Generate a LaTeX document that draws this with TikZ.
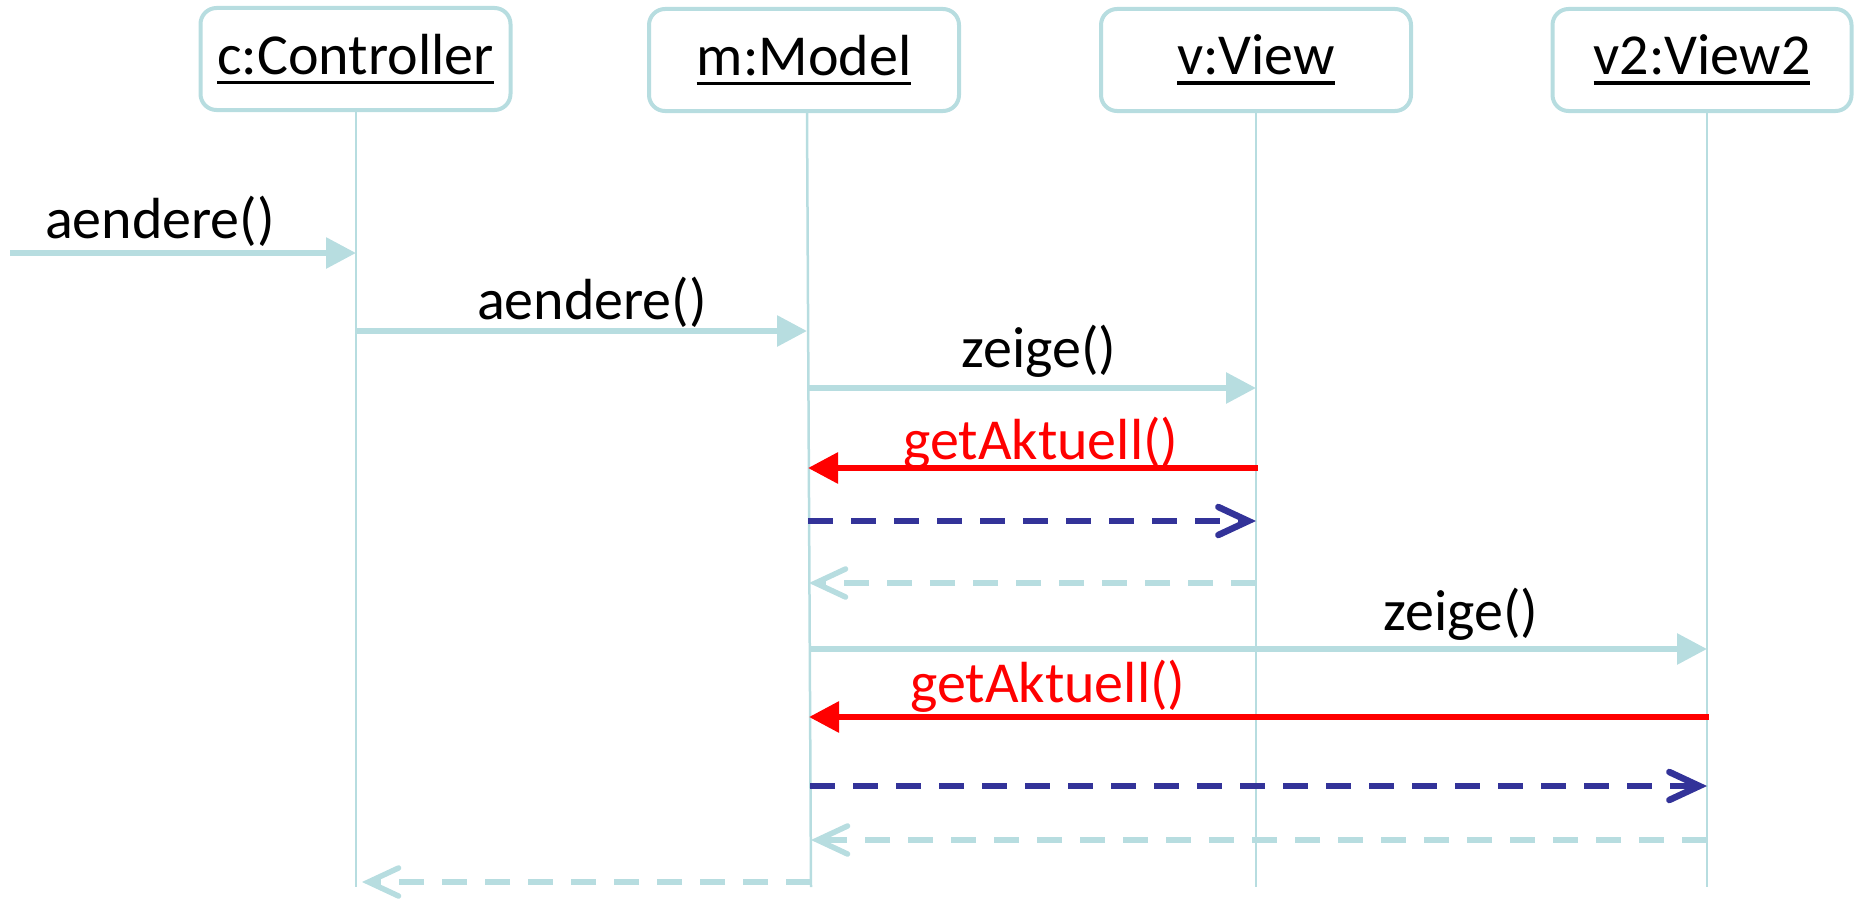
\documentclass[tikz,border=0pt]{standalone}
\usepackage{fontspec}
\setmainfont{Carlito}
\usetikzlibrary{arrows.meta}
\definecolor{lb}{HTML}{B7DDE0}
\definecolor{db}{HTML}{333399}
\definecolor{rd}{HTML}{FF0000}
\newcommand\objname[1]{\setbox0\hbox{#1}\rlap{\raisebox{-10pt}{\rule{\wd0}{3.5pt}}}\box0}
\tikzset{
  obj/.style={draw=lb, line width=4pt, rounded corners=16pt, fill=white, minimum height=102pt, inner sep=0pt, font=\fontsize{58}{60}\selectfont},
  life/.style={draw=lb, line width=2.5pt},
  lbl/.style={inner sep=0pt, font=\fontsize{58}{60}\selectfont},
  call/.style={draw=lb, line width=6pt, -{Triangle[length=30pt,width=30pt]}},
  redcall/.style={draw=rd, line width=6pt, -{Triangle[length=30pt,width=30pt]}},
  reply/.style={draw=db, line width=6.5pt, dash pattern=on 25pt off 18pt, -{Straight Barb[length=30pt,width=28pt,line cap=round]}},
  back/.style={draw=lb, line width=5.5pt, dash pattern=on 25pt off 18pt, -{Straight Barb[length=30pt,width=28pt,line cap=round]}}
}
\begin{document}
\begin{tikzpicture}[x=1pt,y=-1pt]
\useasboundingbox (0,0) rectangle (1855,899);
% objects
\node[obj, minimum width=310pt] (c) at (355.5,59) {\objname{c:Controller}};
\node[obj, minimum width=310pt] (m) at (804,60) {\objname{m:Model}};
\node[obj, minimum width=310pt] (v) at (1256,60) {\objname{v:View}};
\node[obj, minimum width=299pt] (v2) at (1702,60) {\objname{v2:View2}};
% lifeline ends
\coordinate (cE) at (356,887);
\coordinate (mE) at (811,887);
\coordinate (vE) at (1256,887);
\coordinate (v2E) at (1707,887);
\draw[life] (c.south -| cE) -- (cE);
\draw[life] (807,112) -- (mE);
\draw[life] (v.south -| vE) -- (vE);
\draw[life] (v2.south -| v2E) -- (v2E);
% message endpoints
\coordinate (s0) at (10,253);
\coordinate (c1) at (356,253);
\coordinate (c2) at (356,331); \coordinate (m2) at (807,331);
\coordinate (m3) at (808,388); \coordinate (v3) at (1256,388);
\coordinate (v4) at (1258,468); \coordinate (m4) at (808,468);
\coordinate (m5) at (808,521); \coordinate (v5) at (1256,521);
\coordinate (v6) at (1256,583); \coordinate (m6) at (809,583);
\coordinate (m7) at (809,649); \coordinate (v27) at (1707,649);
\coordinate (v28) at (1709,717); \coordinate (m8) at (809,717);
\coordinate (m9) at (810,786); \coordinate (v29) at (1707,786);
\coordinate (v210) at (1707,840); \coordinate (m10) at (811,840);
\coordinate (m11) at (811,882); \coordinate (c11) at (362,882);
% messages
\draw[call] (s0) -- (c1);
\node[lbl] (l1) at (160,221) {aendere()};
\draw[call] (c2) -- (m2);
\node[lbl] (l2) at (592,302) {aendere()};
\draw[call] (m3) -- (v3);
\node[lbl] (l3) at (1039,351) {zeige()};
\draw[redcall] (v4) -- (m4);
\node[lbl, text=rd] (l4) at (1041,443) {getAktuell()};
\draw[reply] (m5) -- (v5);
\draw[back] (v6) -- (m6);
\draw[call] (m7) -- (v27);
\node[lbl] (l7) at (1461,614) {zeige()};
\draw[redcall] (v28) -- (m8);
\node[lbl, text=rd] (l8) at (1048,686) {getAktuell()};
\draw[reply] (m9) -- (v29);
\draw[back] (v210) -- (m10);
\draw[back] (m11) -- (c11);
\end{tikzpicture}
\end{document}
